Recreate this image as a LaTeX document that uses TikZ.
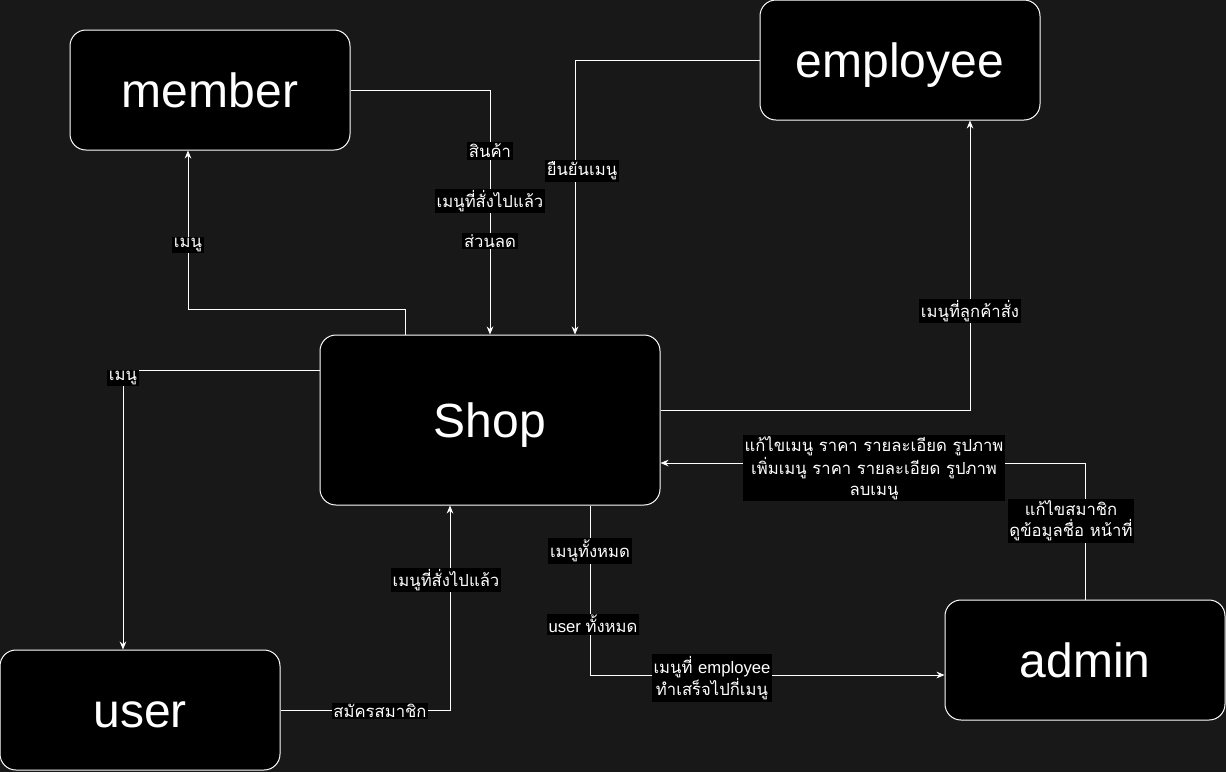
\documentclass[tikz,border=0pt]{standalone}
\usepackage{fontspec}
\setmainfont{Liberation Sans}
\newfontfamily\thai[Script=Thai]{Loma}
\usetikzlibrary{arrows.meta}
\definecolor{canvas}{RGB}{24,24,24}
\tikzset{
  entity/.style={draw=white, fill=black, text=white, line width=0.75pt,
    rounded corners=12pt, text height=26pt, text depth=0pt,
    font=\fontsize{36}{40}\selectfont},
  flow/.style={draw=white, line width=0.75pt, -{Stealth[length=6pt,width=5pt]}},
  flowlabel/.style={fill=black, text=white, inner sep=1.2pt, align=center,
    font=\thai\fontsize{12.5}{16}\selectfont},
}
\begin{document}
\begin{tikzpicture}[x=0.75pt, y=-0.75pt]
% canvas, 1226 x 772 px
\useasboundingbox[fill=canvas] (0,0) rectangle (1226,772);
% entities
\node[entity, minimum width=210pt, minimum height=90pt] (member) at (210,90) {member};
\node[entity, minimum width=210pt, minimum height=90pt] (employee) at (900,60) {employee};
\node[entity, minimum width=255pt, minimum height=127.5pt] (shop) at (490,420) {Shop};
\node[entity, minimum width=210pt, minimum height=90pt] (user) at (140,710) {user};
\node[entity, minimum width=210pt, minimum height=90pt] (admin) at (1085,660) {admin};
% data flows
\draw[flow] (member.east) -| (shop.north);
\draw[flow] (employee.west) -| ([xshift=63.75pt]shop.north);
\draw[flow] ([xshift=-63.75pt]shop.north) -- ++(0,-25) -| ([xshift=-16.5pt]member.south);
\draw[flow] ([yshift=37.5pt]shop.west) -| ([xshift=-12.75pt]user.north);
\draw[flow] ([yshift=7.5pt]shop.east) -| ([xshift=52.5pt]employee.south);
\draw[flow] (admin.north) |- ([yshift=-32.25pt]shop.east);
\draw[flow] ([xshift=75pt]shop.south) |- ([yshift=-11.25pt]admin.west);
\draw[flow] (user.east) -| ([xshift=-30pt]shop.south);
% labels
\node[flowlabel] (lproduct) at (490,151) {สินค้า};
\node[flowlabel] (lordered) at (490,201) {เมนูที่สั่งไปแล้ว};
\node[flowlabel] (ldiscount) at (490,241) {ส่วนลด};
\node[flowlabel] (lconfirm) at (582,171) {ยืนยันเมนู};
\node[flowlabel] (lmenumember) at (188,245) {เมนู};
\node[flowlabel] (lmenuuser) at (123,378) {เมนู};
\node[flowlabel] (lcustorder) at (970,311) {เมนูที่ลูกค้าสั่ง};
\node[flowlabel] (leditmenu) at (874,468) {แก้ไขเมนู ราคา รายละเอียด รูปภาพ\\เพิ่มเมนู ราคา รายละเอียด รูปภาพ\\ลบเมนู};
\node[flowlabel] (leditmember) at (1071,521) {แก้ไขสมาชิก\\ดูข้อมูลชื่อ หน้าที่};
\node[flowlabel] (lallmenu) at (590,551) {เมนูทั้งหมด};
\node[flowlabel] (lalluser) at (593,624) {\rmfamily user \thai ทั้งหมด};
\node[flowlabel] (ldone) at (712,678) {เมนูที่ \rmfamily employee\\ทำเสร็จไปกี่เมนู};
\node[flowlabel] (lsignup) at (380,711) {สมัครสมาชิก};
\node[flowlabel] (luserorder) at (446,580) {เมนูที่สั่งไปแล้ว};
\end{tikzpicture}
\end{document}
